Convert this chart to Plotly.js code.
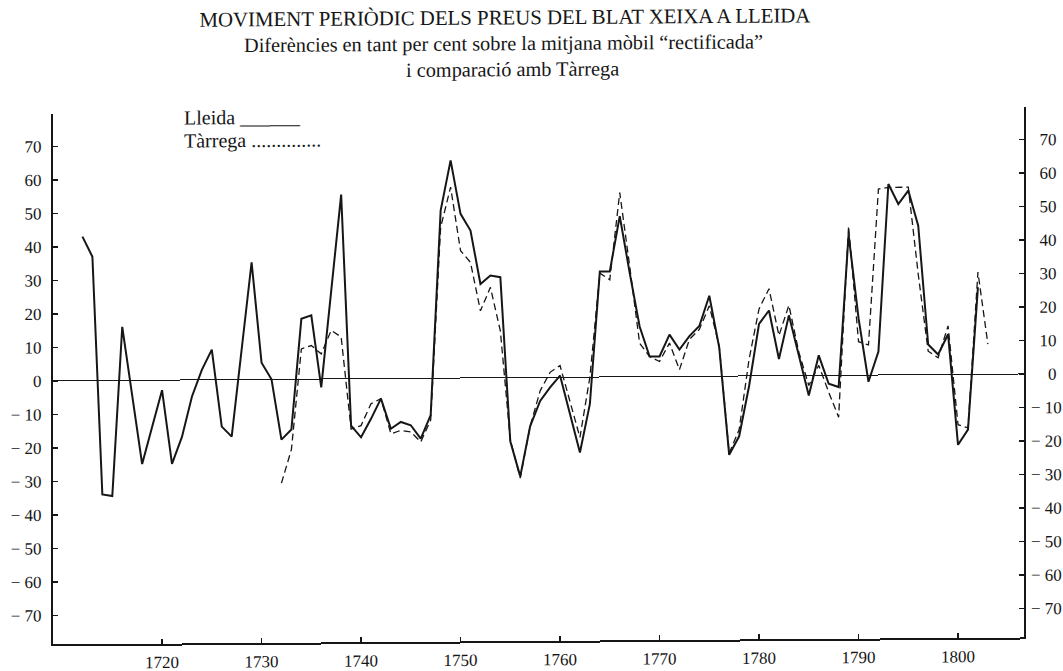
<!DOCTYPE html>
<html>
<head>
<meta charset="utf-8">
<script src="https://cdn.plot.ly/plotly-3.0.1.min.js"></script>
<style>
  html, body { margin: 0; padding: 0; background: #ffffff; overflow: hidden; }
  #chart { width: 1063px; height: 671px; transform: skewY(-0.41deg); transform-origin: 531.5px 335.5px; }
</style>
</head>
<body>
<div id="chart"></div>
<script>
// ---- Data ----
const titleText = "MOVIMENT PERIÒDIC DELS PREUS DEL BLAT XEIXA A LLEIDA";
const subtitleLine1 = "Diferències en tant per cent sobre la mitjana mòbil “rectificada”";
const subtitleLine2 = "i comparació amb Tàrrega";
const legendLleida = "Lleida ______";
const legendTarrega = "Tàrrega ..............";

const lleidaYears = [1712,1713,1714,1715,1716,1717,1718,1719,1720,1721,1722,1723,1724,1725,1726,1727,1728,1729,1730,
  1731,1732,1733,1734,1735,1736,1737,1738,1739,1740,1741,1742,1743,1744,1745,1746,1747,1748,1749,1750,
  1751,1752,1753,1754,1755,1756,1757,1758,1759,1760,1761,1762,1763,1764,1765,1766,1767,1768,1769,1770,
  1771,1772,1773,1774,1775,1776,1777,1778,1779,1780,1781,1782,1783,1784,1785,1786,1787,1788,1789,1790,
  1791,1792,1793,1794,1795,1796,1797,1798,1799,1800,1801,1802];
const lleidaValues = [43,37,-34,-34.5,16,-5,-25,-14,-3,-25,-17,-5,3,9,-14,-17,9,35,5,
  0,-18,-15,18,19,-2.5,26,55,-14,-17.5,-12,-6,-15,-13,-14,-18,-11,50,65,49,
  44,28,30.5,30,-19,-29.5,-14.5,-7,-3,0.5,-11,-22.5,-8,31.5,31.5,48,31,15,6,6,
  12.5,8,12,15,24,8.5,-23.5,-18,-3,15.5,19.5,5,18,6,-6,6,-2.5,-3.5,42,17,
  -2,7,57,51,55,44.5,9,6,12,-21,-16.5,26];

const tarregaYears = [1732,1733,1734,1735,1736,1737,1738,1739,1740,1741,1742,1743,1744,1745,1746,1747,1748,1749,1750,
  1751,1752,1753,1754,1755,1756,1757,1758,1759,1760,1761,1762,1763,1764,1765,1766,1767,1768,1769,1770,
  1771,1772,1773,1774,1775,1776,1777,1778,1779,1780,1781,1782,1783,1784,1785,1786,1787,1788,1789,1790,
  1791,1792,1793,1794,1795,1796,1797,1798,1799,1800,1801,1802,1803];
const tarregaValues = [-31,-21,9,10,7.5,14.5,12.5,-15,-14,-7.5,-6,-16.5,-15.5,-16,-19,-12.5,45,57,38,
  34.5,20,27,14,-18.5,-30,-14.5,-4,1.5,3.5,-7,-18,0,31,29,55,33,10,6,4.5,
  10,2,11,14,21,9,-23,-16,5,20,26,12,21,7,-3,3,-5,-12.5,44.5,10,
  9,55.5,56,56,56,30,7,5,14.5,-15,-16,30.5,9];

const xTickVals = [1720,1730,1740,1750,1760,1770,1780,1790,1800];
const xTickText = ["1720","1730","1740","1750","1760","1770","1780","1790","1800"];
const yTickVals = [70,60,50,40,30,20,10,0,-10,-20,-30,-40,-50,-60,-70];
const yTickTextLeft = ["70","60","50","40","30","20","10","0","− 10","− 20","− 30","− 40","− 50","− 60","− 70"];
const yTickTextRight = ["\u200770","\u200760","\u200750","\u200740","\u200730","\u200720","\u200710","\u2007\u20070","− 10","− 20","− 30","− 40","− 50","− 60","− 70"];

// ---- Styling ----
const serif = "Liberation Serif, Times New Roman, serif";
const ink = "#161616";

const traces = [
  {
    x: lleidaYears, y: lleidaValues, type: "scatter", mode: "lines",
    line: { color: ink, width: 2 }, name: "Lleida", hoverinfo: "skip"
  },
  {
    x: tarregaYears, y: tarregaValues, type: "scatter", mode: "lines", yaxis: "y2",
    line: { color: ink, width: 1.3, dash: "7px,4px" }, name: "Tàrrega", hoverinfo: "skip"
  }
];

const yRange = [-78.66, 79.55];

const layout = {
  width: 1063, height: 671,
  margin: { l: 53, r: 39, t: 111, b: 30, pad: 0 },
  paper_bgcolor: "#ffffff", plot_bgcolor: "#ffffff",
  showlegend: false,
  font: { family: serif, color: ink, size: 17 },
  title: {
    text: titleText, x: 505 / 1063, xref: "container", xanchor: "center",
    y: 1 - 17 / 671, yref: "container", yanchor: "middle",
    font: { family: serif, size: 20.8, color: ink }
  },
  xaxis: {
    range: [1709.04, 1806.63], showgrid: false, zeroline: false,
    showline: true, linecolor: ink, linewidth: 2,
    ticks: "inside", ticklen: 5, tickwidth: 1.3, tickcolor: ink,
    tickvals: xTickVals, ticktext: xTickText,
    tickfont: { family: serif, size: 17, color: ink }, ticklabelstandoff: 2
  },
  yaxis: {
    range: yRange, showgrid: false,
    zeroline: true, zerolinecolor: ink, zerolinewidth: 1,
    showline: true, linecolor: ink, linewidth: 2,
    ticks: "inside", ticklen: 5, tickwidth: 1.3, tickcolor: ink,
    tickvals: yTickVals, ticktext: yTickTextLeft,
    tickfont: { family: serif, size: 17, color: ink }, ticklabelstandoff: 6
  },
  yaxis2: {
    range: yRange, overlaying: "y", side: "right", anchor: "x", showgrid: false, zeroline: false,
    showline: true, linecolor: ink, linewidth: 1.6,
    ticks: "inside", ticklen: 5, tickwidth: 1.3, tickcolor: ink,
    tickvals: yTickVals, ticktext: yTickTextRight,
    tickfont: { family: serif, size: 17, color: ink }, ticklabelstandoff: 2
  },
  annotations: [
    { text: subtitleLine1, xref: "paper", yref: "paper", x: (503 - 53) / 971, y: (641 - 43) / 530,
      xanchor: "center", yanchor: "middle", showarrow: false, borderpad: 0,
      font: { family: serif, size: 20.3, color: ink } },
    { text: subtitleLine2, xref: "paper", yref: "paper", x: (512 - 53) / 971, y: (641 - 69) / 530,
      xanchor: "center", yanchor: "middle", showarrow: false, borderpad: 0,
      font: { family: serif, size: 20.3, color: ink } },
    { text: legendLleida, xref: "paper", yref: "paper", x: (182 - 53) / 971, y: (641 - 115) / 530,
      xanchor: "left", yanchor: "middle", showarrow: false, font: { family: serif, size: 20, color: ink } },
    { text: legendTarrega, xref: "paper", yref: "paper", x: (182 - 53) / 971, y: (641 - 138) / 530,
      xanchor: "left", yanchor: "middle", showarrow: false, font: { family: serif, size: 20, color: ink } }
  ]
};

Plotly.newPlot("chart", traces, layout, { staticPlot: true, displayModeBar: false });
</script>
</body>
</html>
